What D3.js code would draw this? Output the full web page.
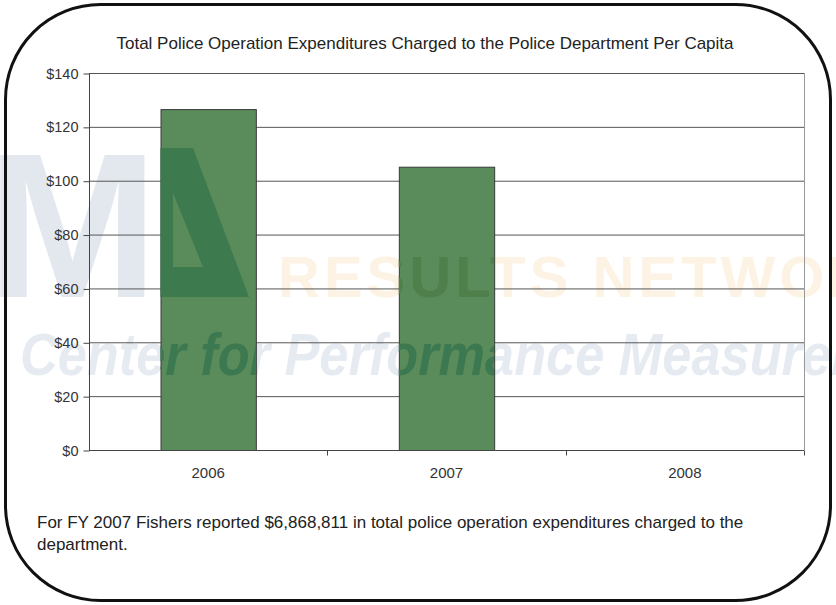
<!DOCTYPE html>
<html>
<head>
<meta charset="utf-8">
<script src="https://cdn.jsdelivr.net/npm/d3@7"></script>
<style>
  body { margin: 0; background: #fff; }
  svg { display: block; }
</style>
</head>
<body>
<div id="chart"></div>
<script>
// data
const years = ['2006', '2007', '2008']
const perCapita = [126.6, 105.2, null]
const yTicks = [0, 20, 40, 60, 80, 100, 120, 140]
const title = 'Total Police Operation Expenditures Charged to the Police Department Per Capita'
const noteLines = [
  'For FY 2007 Fishers reported $6,868,811 in total police operation expenditures charged to the',
  'department.'
]

const W = 836, H = 605
const margin = { top: 73, right: 32, bottom: 155, left: 89 }
const width = W - margin.left - margin.right
const height = H - margin.top - margin.bottom
const font = '"Liberation Sans", Arial, sans-serif'

const svg = d3.select('#chart').append('svg')
  .attr('width', W)
  .attr('height', H)

const x = d3.scaleBand()
  .domain(years)
  .range([0, width])
  .paddingInner(0.6)
  .paddingOuter(0.3)
const y = d3.scaleLinear()
  .domain([0, 140])
  .range([height, 0])

const data = years.map((yr, i) => ({ year: yr, value: perCapita[i] }))
  .filter(d => d.value != null)

// clip so the watermark shows darker through the bars
const defs = svg.append('defs')
defs.append('clipPath').attr('id', 'barClip')
  .selectAll('rect')
  .data(data)
  .enter().append('rect')
  .attr('x', d => margin.left + x(d.year))
  .attr('y', d => margin.top + y(d.value))
  .attr('width', x.bandwidth())
  .attr('height', d => height - y(d.value))

// ICMA watermark, drawn light on the paper and dark on the bars
function watermark(g, dark) {
  g.append('text')
    .attr('x', 158).attr('y', 297)
    .attr('text-anchor', 'end')
    .attr('font-family', font).attr('font-weight', 'bold')
    .attr('font-size', 206)
    .attr('fill', dark ? '#3d7a4e' : '#e3e8ef')
    .text('ICM')
  // stylised "A" of the logo
  g.append('path')
    .attr('d', 'M160,148H193L249,297H160Z M173,193V267H203Z')
    .attr('fill-rule', 'evenodd')
    .attr('fill', dark ? '#3d7a4e' : '#e4eee6')
  g.append('text')
    .attr('x', 278).attr('y', 297)
    .attr('font-family', font).attr('font-weight', 'bold')
    .attr('font-size', 58)
    .attr('letter-spacing', 4)
    .attr('fill', dark ? '#4f7f4a' : '#fdf3e4')
    .text('RESULTS NETWORK')
  g.append('text')
    .attr('x', 20).attr('y', 375)
    .attr('font-family', font).attr('font-weight', 'bold').attr('font-style', 'italic')
    .attr('font-size', 60)
    .attr('textLength', 936).attr('lengthAdjust', 'spacingAndGlyphs')
    .attr('fill', dark ? '#3c7850' : '#e6ebf2')
    .text('Center for Performance Measurement')
}
watermark(svg.append('g'), false)

const chart = svg.append('g')
  .attr('transform', `translate(${margin.left}, ${margin.top})`)

// gridlines
chart.append('g').selectAll('line')
  .data(yTicks.filter(t => t > 0))
  .enter().append('line')
  .attr('x1', 0).attr('x2', width)
  .attr('y1', d => y(d) + 0.5).attr('y2', d => y(d) + 0.5)
  .attr('stroke', '#555')

// right border of plot
chart.append('line')
  .attr('x1', width + 0.5).attr('x2', width + 0.5)
  .attr('y1', 0).attr('y2', height)
  .attr('stroke', '#999')

// bars
chart.selectAll('.bar')
  .data(data)
  .enter().append('rect')
  .attr('class', 'bar')
  .attr('x', d => x(d.year) + 0.5)
  .attr('y', d => y(d.value) + 0.5)
  .attr('width', x.bandwidth())
  .attr('height', d => height - y(d.value))
  .attr('fill', '#5a8b5a')
  .attr('stroke', '#3a3a3a')

watermark(svg.append('g').attr('clip-path', 'url(#barClip)'), true)

// y axis
const yAxis = chart.append('g')
  .attr('transform', 'translate(0.5, 0.5)')
  .call(d3.axisLeft(y).tickValues(yTicks).tickSize(6).tickPadding(5)
    .tickFormat(d => '$' + d))
yAxis.select('.domain').attr('stroke', '#444').attr('d', `M0,0V${height}`)
yAxis.selectAll('.tick line').attr('stroke', '#444')
yAxis.selectAll('text')
  .attr('font-family', font).attr('font-size', 14.5).attr('fill', '#333')

// x axis, ticks sit between categories
const xAxis = chart.append('g')
  .attr('transform', `translate(0, ${height + 0.5})`)
xAxis.append('line')
  .attr('x1', 0).attr('x2', width)
  .attr('stroke', '#444')
const bounds = years.map(d => x(d) - x.step() * x.paddingOuter())
  .concat([width])
xAxis.selectAll('.xtick')
  .data(bounds.slice(1))
  .enter().append('line')
  .attr('x1', d => Math.round(d) + 0.5).attr('x2', d => Math.round(d) + 0.5)
  .attr('y1', 0).attr('y2', 5)
  .attr('stroke', '#444')
xAxis.selectAll('.xlab')
  .data(years)
  .enter().append('text')
  .attr('x', d => x(d) + x.bandwidth() / 2)
  .attr('y', 27)
  .attr('text-anchor', 'middle')
  .attr('font-family', font).attr('font-size', 15).attr('fill', '#333')
  .text(d => d)

// title
svg.append('text')
  .attr('x', 425).attr('y', 49)
  .attr('text-anchor', 'middle')
  .attr('font-family', font).attr('font-size', 17).attr('fill', '#222')
  .text(title)

// note below the chart
svg.append('g').selectAll('text')
  .data(noteLines)
  .enter().append('text')
  .attr('x', 37).attr('y', (d, i) => 528 + i * 22)
  .attr('font-family', font).attr('font-size', 17).attr('fill', '#222')
  .text(d => d)

// rounded frame
svg.append('rect')
  .attr('x', 5.5).attr('y', 4.5)
  .attr('width', 825).attr('height', 596)
  .attr('rx', 95).attr('ry', 95)
  .attr('fill', 'none')
  .attr('stroke', '#111')
  .attr('stroke-width', 3)
</script>
</body>
</html>
